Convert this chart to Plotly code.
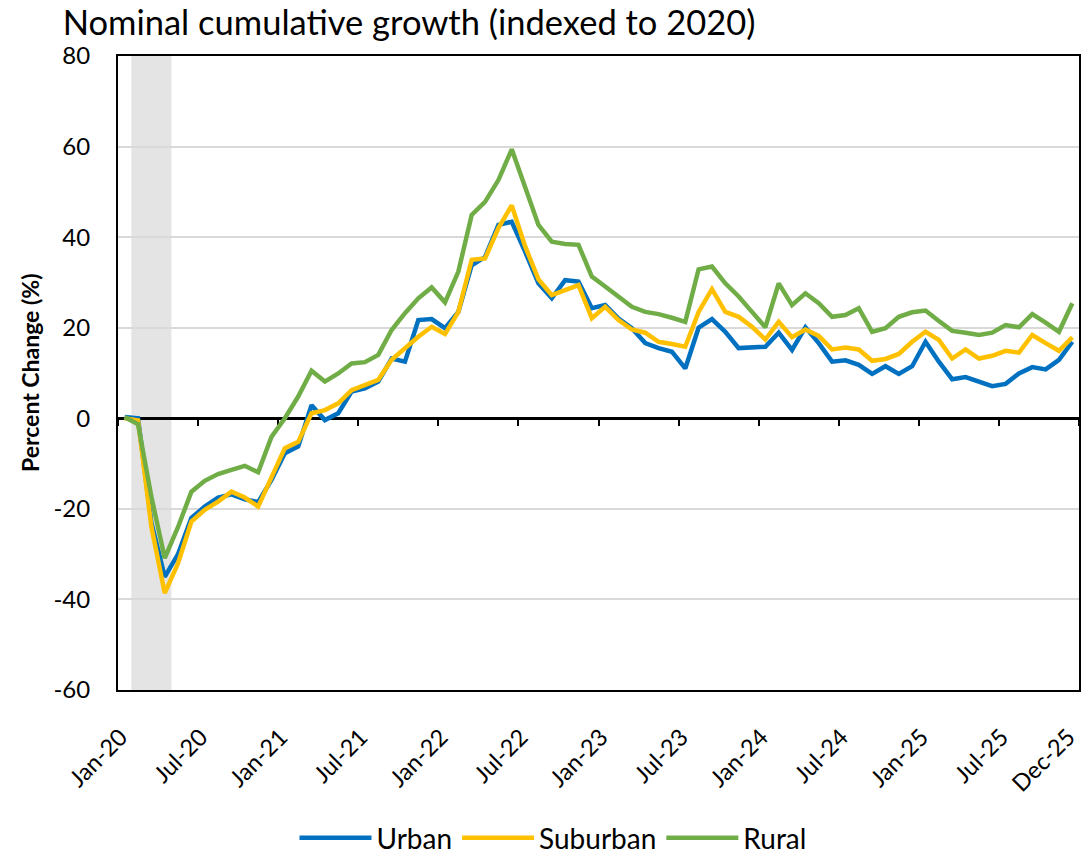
import plotly.graph_objects as go

month_names = ["Jan", "Feb", "Mar", "Apr", "May", "Jun", "Jul", "Aug", "Sep", "Oct", "Nov", "Dec"]
months = [f"{m}-{yy}" for yy in range(20, 26) for m in month_names]

urban = [0.3, 0.0, -23.0, -35.0, -30.0, -22.0, -19.5, -17.5, -16.8, -17.9, -18.5, -13.6,
         -7.7, -6.2, 2.9, -0.4, 1.1, 5.9, 6.6, 8.1, 13.2, 12.5, 21.7, 21.9,
         19.9, 23.5, 33.8, 35.6, 42.7, 43.4, 36.8, 29.8, 26.5, 30.5, 30.2, 24.3,
         25.0, 22.0, 19.9, 16.6, 15.5, 14.7, 11.0, 20.0, 21.9, 19.1, 15.5, 15.7,
         15.8, 18.9, 15.1, 20.1, 16.6, 12.5, 12.8, 11.8, 9.8, 11.5, 9.8, 11.5,
         16.9, 12.5, 8.6, 9.1, 8.1, 7.1, 7.6, 9.9, 11.3, 10.8, 12.9, 16.9]

suburban = [0.0, -0.5, -23.9, -38.6, -32.0, -22.8, -20.2, -18.4, -16.2, -17.5, -19.5, -12.9,
            -6.6, -5.2, 1.1, 1.8, 3.3, 6.2, 7.4, 8.5, 12.9, 15.5, 18.0, 20.2,
            18.6, 23.5, 35.0, 35.3, 42.0, 47.0, 38.0, 30.7, 27.2, 28.3, 29.4, 22.1,
            24.6, 21.7, 19.6, 18.9, 16.9, 16.4, 15.8, 23.5, 28.5, 23.5, 22.4, 20.2,
            17.4, 21.3, 17.9, 19.6, 18.2, 15.2, 15.6, 15.2, 12.7, 13.1, 14.2, 16.9,
            19.1, 17.3, 13.2, 15.2, 13.2, 13.8, 14.9, 14.5, 18.4, 16.6, 14.9, 17.9]

rural = [0.3, -1.3, -17.3, -30.9, -24.0, -16.2, -13.8, -12.3, -11.4, -10.5, -11.9, -4.1,
         0.0, 4.8, 10.5, 8.1, 9.9, 12.1, 12.4, 14.0, 19.5, 23.2, 26.5, 28.9,
         25.6, 32.4, 44.9, 47.8, 52.6, 59.4, 51.1, 42.7, 39.0, 38.5, 38.3, 31.3,
         29.1, 26.9, 24.6, 23.5, 23.0, 22.2, 21.3, 32.9, 33.5, 29.8, 26.9, 23.5,
         20.1, 29.8, 25.0, 27.6, 25.4, 22.4, 22.8, 24.3, 19.1, 19.9, 22.4, 23.4,
         23.8, 21.5, 19.3, 18.9, 18.4, 18.9, 20.6, 20.1, 23.0, 21.1, 19.1, 25.4]

recession_months = ["Feb-20", "Mar-20", "Apr-20"]
tick_labels = ["Jan-20", "Jul-20", "Jan-21", "Jul-21", "Jan-22", "Jul-22", "Jan-23",
               "Jul-23", "Jan-24", "Jul-24", "Jan-25", "Jul-25", "Dec-25"]
y_ticks = [-60, -40, -20, 0, 20, 40, 60, 80]

FONT = "Lato"
x_idx = list(range(len(months)))
tick_pos = [months.index(t) for t in tick_labels]
boundary_ticks = [i - 0.5 for i in range(0, len(months) + 1, 6)]
x_range = [-0.5, len(months) - 0.5]

fig = go.Figure()

series = [("Urban", urban, "#0070C0"), ("Suburban", suburban, "#FFC000"), ("Rural", rural, "#70AD47")]
for name, vals, col in series:
    fig.add_trace(go.Scatter(x=x_idx, y=vals, name=name, mode="lines",
                             line=dict(color=col, width=4.5)))

# invisible helper trace so the zero-crossing axis is rendered
fig.add_trace(go.Scatter(x=x_idx, y=rural, xaxis="x2", mode="lines", opacity=0,
                         showlegend=False, hoverinfo="skip"))

rec_idx = [months.index(m) for m in recession_months]
fig.add_shape(type="rect", xref="x", yref="paper",
              x0=min(rec_idx) - 0.5, x1=max(rec_idx) + 0.5, y0=0, y1=1,
              fillcolor="#E4E4E4", line=dict(width=0), layer="between")

y_min, y_max = y_ticks[0], y_ticks[-1]

fig.update_layout(
    width=1081, height=855,
    margin=dict(l=118, r=2, t=56, b=165, autoexpand=False),
    plot_bgcolor="white", paper_bgcolor="white",
    font=dict(family=FONT, color="black"),
    title=dict(text="Nominal cumulative growth (indexed to 2020)", x=0.058, xref="container",
               xanchor="left", y=0.973, yref="container", yanchor="middle",
               font=dict(family=FONT, size=34.5, color="black")),
    xaxis=dict(range=x_range, tickmode="array", tickvals=tick_pos, ticktext=tick_labels,
               tickangle=-45, tickfont=dict(size=23.5), showgrid=False, zeroline=False,
               showline=True, linecolor="black", linewidth=2, mirror=True, ticks="",
               ticklabelstandoff=22, ticklabelshift=-4, ticklabeloverflow="allow",
               automargin=False),
    xaxis2=dict(range=x_range, overlaying="x", anchor="free",
                position=(0 - y_min) / (y_max - y_min), side="bottom",
                showline=True, linecolor="black", linewidth=3, layer="below traces",
                ticks="outside", ticklen=6, tickwidth=2, tickcolor="black",
                tickmode="array", tickvals=boundary_ticks, showticklabels=False,
                showgrid=False, zeroline=False, automargin=False),
    yaxis=dict(range=[y_min, y_max], tickmode="array", tickvals=y_ticks,
               ticktext=[str(v) for v in y_ticks],
               tickfont=dict(size=24), showgrid=True, gridcolor="#D9D9D9", gridwidth=1.5,
               zeroline=False, showline=True, linecolor="black", linewidth=2, mirror=True,
               ticks="", ticklabelstandoff=21, automargin=False),
    legend=dict(orientation="h", x=(553 - 118) / 961, xref="paper", xanchor="center",
                y=(690 - 838) / 634, yref="paper", yanchor="middle", font=dict(size=28),
                itemwidth=72),
    annotations=[dict(text="<b>Percent Change (%)</b>", textangle=-90, xref="paper",
                      yref="paper", x=(30 - 118) / 961, y=0.5, xanchor="center",
                      yanchor="middle", showarrow=False, font=dict(size=23, family=FONT))],
    showlegend=True,
)

fig.write_html("out.html", config={"displayModeBar": False},
               post_script="document.body.style.margin='0px';")
